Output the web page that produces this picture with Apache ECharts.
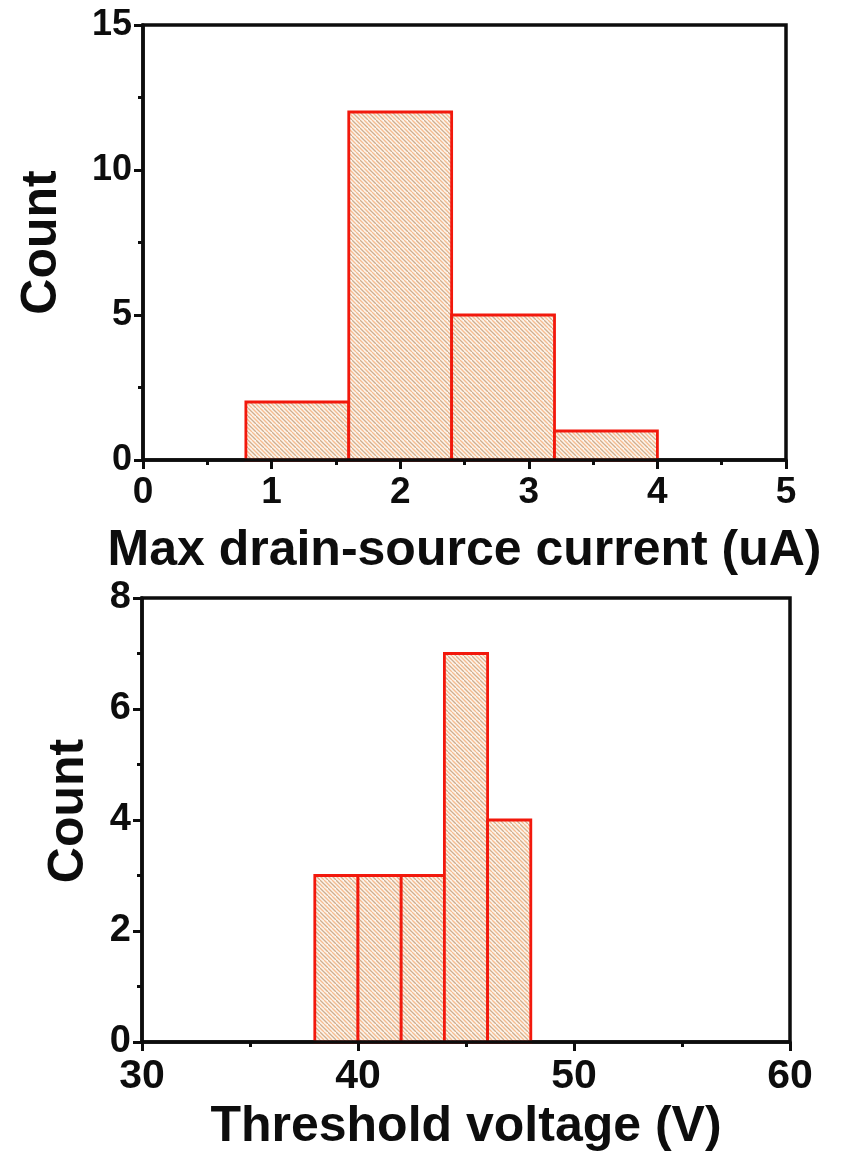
<!DOCTYPE html>
<html>
<head>
<meta charset="utf-8">
<script src="https://cdn.jsdelivr.net/npm/echarts@6/dist/echarts.min.js"></script>
<style>
  html, body { margin: 0; padding: 0; background: #fff; }
  #chart { width: 844px; height: 1161px; }
</style>
</head>
<body>
<div id="chart"></div>
<script>
// Histogram of maximum drain-source current (uA)
const currentBinEdges = [0.8, 1.6, 2.4, 3.2, 4.0];
const currentCounts = [2, 12, 5, 1];

// Histogram of threshold voltage (V)
const voltageBinEdges = [38, 40, 42, 44, 46, 48];
const voltageCounts = [3, 3, 3, 7, 4];

const topXLabel = 'Max drain-source current (uA)';
const bottomXLabel = 'Threshold voltage (V)';
const yLabel = 'Count';

function toBins(edges, counts) {
  return counts.map((c, i) => [edges[i], edges[i + 1], c]);
}

// Diagonal hatch tile: alternating tan and orange strokes on a pale cream ground
function makeHatch() {
  const s = 8;
  const cv = document.createElement('canvas');
  cv.width = s; cv.height = s;
  const ctx = cv.getContext('2d');
  ctx.fillStyle = '#fdf4ec';
  ctx.fillRect(0, 0, s, s);
  ctx.lineWidth = 1.3;
  const lines = [[-8, '#d0ae8e'], [0, '#d0ae8e'], [-4, '#f7bd90'], [4, '#f7bd90']];
  lines.forEach(([x, col]) => {
    ctx.strokeStyle = col;
    ctx.beginPath();
    ctx.moveTo(x, 0);
    ctx.lineTo(x + s, s);
    ctx.stroke();
  });
  return cv;
}
const hatch = { image: makeHatch(), repeat: 'repeat' };

const FONT = 'Liberation Sans, Arial, sans-serif';
const INK = '#0d0d0d';

function histItem(params, api) {
  const x0 = api.value(0), x1 = api.value(1), c = api.value(2);
  const p0 = api.coord([x0, c]);
  const p1 = api.coord([x1, 0]);
  return {
    type: 'rect',
    shape: { x: p0[0], y: p0[1], width: p1[0] - p0[0], height: p1[1] - p0[1] },
    style: { fill: hatch, stroke: '#f2180c', lineWidth: 2.8 }
  };
}

function xAxisCfg(gridIndex, min, max, interval, name, nameGap, labelSize, labelMargin) {
  return {
    type: 'value', gridIndex, min, max, interval, z: 5,
    name, nameLocation: 'middle', nameGap,
    nameTextStyle: { fontFamily: FONT, fontWeight: 'bold', fontSize: 50, color: INK },
    axisLine: { show: true, onZero: false, lineStyle: { color: INK, width: 3.5 } },
    axisTick: { show: true, length: 9, lineStyle: { color: INK, width: 3 } },
    minorTick: { show: true, splitNumber: 2, length: 5, lineStyle: { color: INK, width: 3 } },
    axisLabel: { fontFamily: FONT, fontWeight: 'bold', fontSize: labelSize, color: INK, margin: labelMargin },
    splitLine: { show: false }
  };
}

function yAxisCfg(gridIndex, min, max, interval, nameGap, labelSize, namePad) {
  return {
    type: 'value', gridIndex, min, max, interval, z: 5,
    name: yLabel, nameLocation: 'middle', nameGap, nameRotate: 90,
    nameTextStyle: { fontFamily: FONT, fontWeight: 'bold', fontSize: 50, color: INK, padding: namePad },
    axisLine: { show: true, lineStyle: { color: INK, width: 3.5 } },
    axisTick: { show: true, length: 9, lineStyle: { color: INK, width: 3 } },
    minorTick: { show: true, splitNumber: 2, length: 5, lineStyle: { color: INK, width: 3 } },
    axisLabel: { fontFamily: FONT, fontWeight: 'bold', fontSize: labelSize, color: INK, margin: 11 },
    splitLine: { show: false }
  };
}

const chart = echarts.init(document.getElementById('chart'), null, { renderer: 'canvas' });
chart.setOption({
  backgroundColor: '#ffffff',
  animation: false,
  grid: [
    { left: 143, top: 25, width: 643, height: 435, show: true, borderColor: INK, borderWidth: 3.5, backgroundColor: 'transparent' },
    { left: 142, top: 598, width: 648, height: 444, show: true, borderColor: INK, borderWidth: 3.5, backgroundColor: 'transparent' }
  ],
  xAxis: [
    xAxisCfg(0, 0, 5, 1, topXLabel, 66, 37, 14),
    xAxisCfg(1, 30, 60, 10, bottomXLabel, 60, 41, 14)
  ],
  yAxis: [
    yAxisCfg(0, 0, 15, 5, 76, 36, 0),
    yAxisCfg(1, 0, 8, 2, 48, 38, [0, 0, 0, 18])
  ],
  series: [
    {
      type: 'custom', xAxisIndex: 0, yAxisIndex: 0, z: 2,
      renderItem: histItem,
      encode: { x: [0, 1], y: 2 },
      data: toBins(currentBinEdges, currentCounts)
    },
    {
      type: 'custom', xAxisIndex: 1, yAxisIndex: 1, z: 2,
      renderItem: histItem,
      encode: { x: [0, 1], y: 2 },
      data: toBins(voltageBinEdges, voltageCounts)
    }
  ]
});
</script>
</body>
</html>
